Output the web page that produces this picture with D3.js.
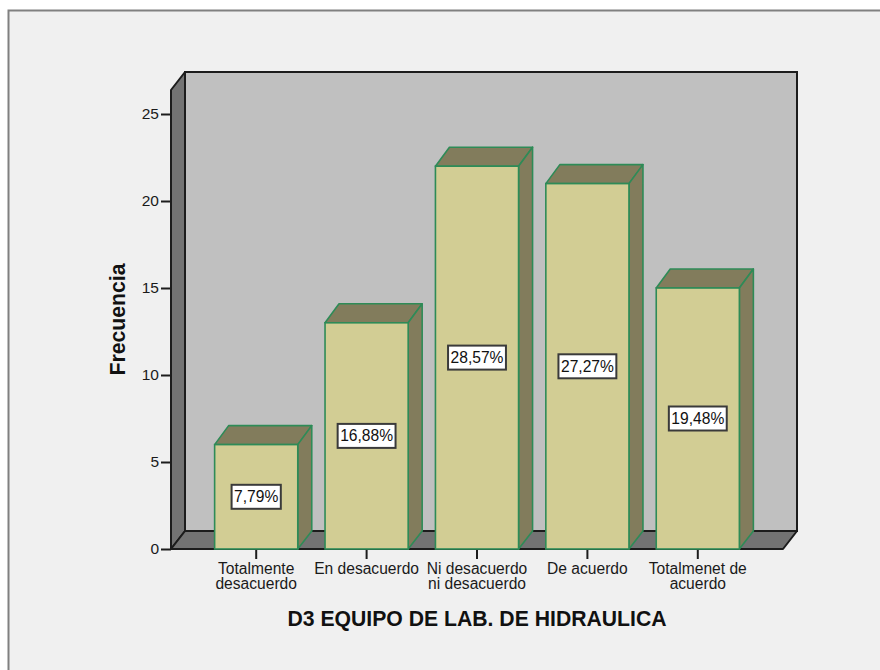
<!DOCTYPE html>
<html><head><meta charset="utf-8">
<script src="https://cdnjs.cloudflare.com/ajax/libs/d3/7.8.5/d3.min.js"></script>
<style>html,body{margin:0;padding:0;background:#fff}svg{display:block}text{font-family:"Liberation Sans",Arial,sans-serif}</style>
</head><body><svg id="c" width="880" height="670"></svg>
<script>
const categories = ["Totalmente|desacuerdo","En desacuerdo","Ni desacuerdo|ni desacuerdo","De acuerdo","Totalmenet de|acuerdo"];
const values = [6,13,22,21,15];
const percentLabels = ["7,79%","16,88%","28,57%","27,27%","19,48%"];
const yTicks = [0,5,10,15,20,25];
const xTitle = "D3 EQUIPO DE LAB. DE HIDRAULICA";
const yTitle = "Frecuencia";

const svg = d3.select("#c");
const dx = 14, dy = 18, barDy = 19;
const plotLeft = 171, plotRight = 783, plotBottom = 549, plotTop = 90;
const y = d3.scaleLinear().domain([0,25]).range([549,114]);
const x = d3.scaleBand().domain(categories).range([201,753]).paddingInner(0.247).paddingOuter(0.1235);
const poly = pts => pts.map(p=>p.join(",")).join(" ");

// frame
svg.append("rect").attr("x",8.5).attr("y",10.5).attr("width",900).attr("height",700)
  .attr("fill","#f0f0f0").attr("stroke","#808080").attr("stroke-width",2);

// walls
const dark = "#1c1c1c";
svg.append("rect").attr("x",plotLeft+dx).attr("y",plotTop-dy).attr("width",plotRight-plotLeft).attr("height",plotBottom-plotTop)
  .attr("fill","#c0c0c0").attr("stroke",dark).attr("stroke-width",2);
svg.append("polygon").attr("points",poly([[plotLeft,plotTop],[plotLeft+dx,plotTop-dy],[plotLeft+dx,plotBottom-dy],[plotLeft,plotBottom]]))
  .attr("fill","#737373").attr("stroke",dark).attr("stroke-width",2).attr("stroke-linejoin","round");
svg.append("polygon").attr("points",poly([[plotLeft,plotBottom],[plotLeft+dx,plotBottom-dy],[plotRight+dx,plotBottom-dy],[plotRight,plotBottom]]))
  .attr("fill","#737373").attr("stroke",dark).attr("stroke-width",2).attr("stroke-linejoin","round");

// axes
const yAxis = d3.axisLeft(y).tickValues(yTicks).tickSize(10).tickPadding(2).tickSizeOuter(0);
const gy = svg.append("g").attr("transform",`translate(${plotLeft},0)`).call(yAxis);
gy.select(".domain").remove();
gy.selectAll("line").attr("stroke",dark).attr("stroke-width",2);
gy.selectAll("text").attr("font-size",15.5).attr("fill","#1a1a1a");

const xAxis = d3.axisBottom(x).tickSize(10).tickSizeOuter(0).tickFormat("");
const gx = svg.append("g").attr("transform",`translate(0,${plotBottom})`).call(xAxis);
gx.select(".domain").remove();
gx.selectAll("line").attr("stroke",dark).attr("stroke-width",2);
gx.selectAll(".tick").each(function(d){
  const t = d3.select(this).append("text").attr("text-anchor","middle").attr("font-size",15.6).attr("fill","#1a1a1a");
  d.split("|").forEach((s,i)=>t.append("tspan").attr("x",0).attr("y",25+i*14.5).text(s));
});

// bars
const green = "#2e8b57";
const g = svg.append("g").selectAll("g").data(values).join("g");
g.each(function(v,i){
  const b = x(categories[i]), w = x.bandwidth(), t = y(v), s = d3.select(this);
  s.append("polygon").attr("points",poly([[b,t],[b+dx,t-barDy],[b+w+dx,t-barDy],[b+w,t]]))
    .attr("fill","#827c5c").attr("stroke",green).attr("stroke-width",1.6).attr("stroke-linejoin","round");
  s.append("polygon").attr("points",poly([[b+w,t],[b+w+dx,t-barDy],[b+w+dx,plotBottom-dy],[b+w,plotBottom]]))
    .attr("fill","#827c5c").attr("stroke",green).attr("stroke-width",1.6).attr("stroke-linejoin","round");
  s.append("rect").attr("x",b).attr("y",t).attr("width",w).attr("height",plotBottom-t)
    .attr("fill","#d2cd94").attr("stroke",green).attr("stroke-width",1.6);
});

// value labels
const lab = svg.append("g").selectAll("g").data(values).join("g")
  .attr("transform",(v,i)=>`translate(${x(categories[i])+x.bandwidth()/2},${y(v/2)})`);
lab.each(function(v,i){
  const s = d3.select(this);
  const t = s.append("text").attr("text-anchor","middle").attr("y",5.5).attr("font-size",15.6).attr("fill","#111").text(percentLabels[i]);
  const w = t.node().getComputedTextLength()+5;
  s.insert("rect","text").attr("x",-w/2).attr("y",-12).attr("width",w).attr("height",24)
    .attr("fill","#fff").attr("stroke","#3a3a3a").attr("stroke-width",2);
});

// titles
svg.append("text").attr("x",477).attr("y",625.5).attr("text-anchor","middle").attr("font-size",21.2).attr("font-weight","bold").attr("fill","#111").text(xTitle);
svg.append("text").attr("transform","translate(125,319.5) rotate(-90)").attr("text-anchor","middle").attr("font-size",21.2).attr("font-weight","bold").attr("fill","#111").text(yTitle);
</script></body></html>
